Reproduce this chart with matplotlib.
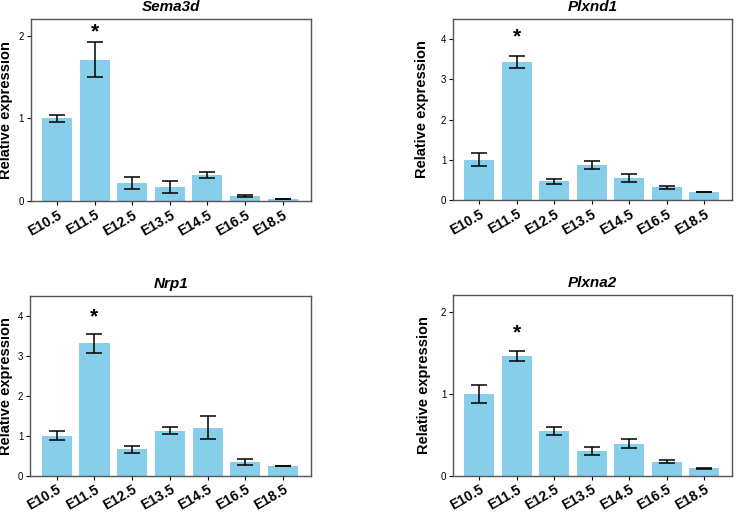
import numpy as np
import matplotlib
matplotlib.use("Agg")
import matplotlib.pyplot as plt

plt.rcParams['font.family'] = ['Liberation Sans', 'DejaVu Sans']

STAGES = ["E10.5", "E11.5", "E12.5", "E13.5", "E14.5", "E16.5", "E18.5"]

GENES = ["Sema3d", "Plxnd1", "Nrp1", "Plxna2"]

sema3d_mean = [1.00, 1.71, 0.22, 0.17, 0.32, 0.065, 0.025]
sema3d_err = [0.045, 0.21, 0.07, 0.075, 0.035, 0.012, 0.005]

plxnd1_mean = [1.00, 3.43, 0.47, 0.87, 0.55, 0.32, 0.20]
plxnd1_err = [0.16, 0.16, 0.065, 0.11, 0.09, 0.035, 0.01]

nrp1_mean = [1.00, 3.31, 0.66, 1.12, 1.20, 0.34, 0.24]
nrp1_err = [0.11, 0.23, 0.085, 0.09, 0.28, 0.075, 0.01]

plxna2_mean = [1.00, 1.46, 0.54, 0.30, 0.39, 0.17, 0.09]
plxna2_err = [0.11, 0.06, 0.05, 0.045, 0.055, 0.02, 0.005]

# y-axis upper limits, tick values and asterisk heights per panel
y_max = [2.2, 4.5, 4.5, 2.2]
y_ticks = [[0, 1, 2], [0, 1, 2, 3, 4], [0, 1, 2, 3, 4], [0, 1, 2]]
star_y = [2.05, 4.06, 3.97, 1.74]

means = [sema3d_mean, plxnd1_mean, nrp1_mean, plxna2_mean]
errs = [sema3d_err, plxnd1_err, nrp1_err, plxna2_err]

# axes boxes in figure fractions [left, bottom, width, height]
boxes = [
    [0.042, 0.608, 0.379, 0.355],
    [0.614, 0.610, 0.378, 0.353],
    [0.041, 0.073, 0.381, 0.350],
    [0.614, 0.073, 0.378, 0.351],
]
label_x = [-0.064, -0.086, -0.06, -0.079]

fig = plt.figure(figsize=(7.38, 5.13), dpi=100)
x = np.arange(len(STAGES))

for i in range(4):
    ax = fig.add_axes(boxes[i])
    ax.bar(x, means[i], width=0.8, color="#87CEEB", zorder=2)
    ax.errorbar(x, means[i], yerr=errs[i], fmt="none", ecolor="black",
                elinewidth=1.1, capsize=5.5, capthick=1.1, zorder=3)
    ax.text(1, star_y[i], "*", ha="center", va="center",
            fontsize=15, fontweight="bold")

    ax.set_xlim(-0.7, 6.75)
    ax.set_ylim(0, y_max[i])
    ax.set_yticks(y_ticks[i])
    ax.set_xticks(x)
    ax.set_xticklabels(STAGES, rotation=30, ha="right",
                       rotation_mode="anchor", fontsize=10, fontweight="bold")
    ax.tick_params(axis="y", labelsize=7, length=3, width=0.8, pad=2)
    ax.tick_params(axis="x", length=3, width=0.8, pad=2)

    ax.set_ylabel("Relative expression", fontsize=10.5, fontweight="bold")
    ax.yaxis.set_label_coords(label_x[i], 0.5)
    ax.set_title(GENES[i], fontsize=11, fontweight="bold", style="italic", pad=6)

    for side in ["top", "right", "left", "bottom"]:
        ax.spines[side].set_color("#555555")
        ax.spines[side].set_linewidth(1)

fig.savefig("out.png", dpi=100)
